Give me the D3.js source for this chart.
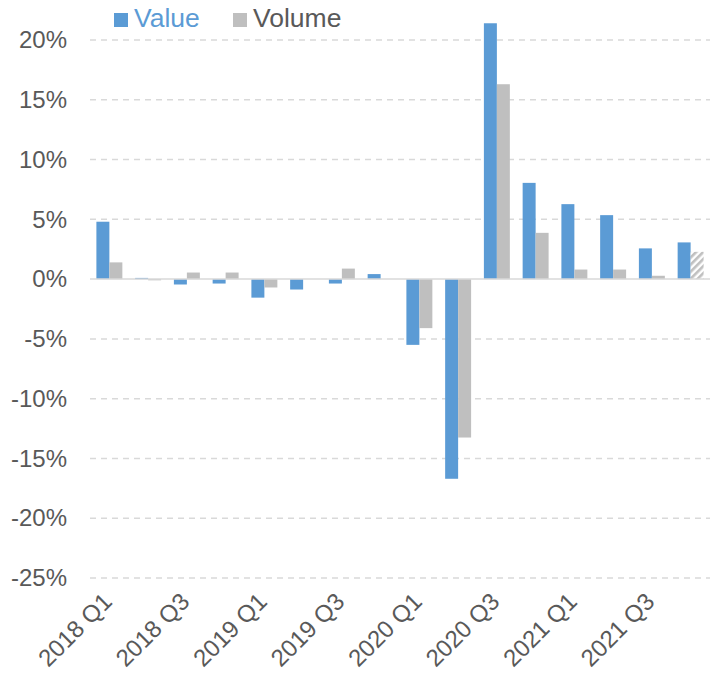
<!DOCTYPE html>
<html><head><meta charset="utf-8">
<script src="https://cdn.jsdelivr.net/npm/d3@7"></script>
<style>body{margin:0;background:#fff}svg{display:block}text{font-family:"Liberation Sans",Arial,sans-serif}</style>
</head><body>
<svg id="c" width="713" height="674"></svg>
<script>
const quarters = ["2018 Q1","2018 Q2","2018 Q3","2018 Q4","2019 Q1","2019 Q2","2019 Q3","2019 Q4","2020 Q1","2020 Q2","2020 Q3","2020 Q4","2021 Q1","2021 Q2","2021 Q3","2021 Q4"];
const valueSeries = [4.8, 0.1, -0.45, -0.37, -1.55, -0.87, -0.37, 0.42, -5.5, -16.7, 21.4, 8.05, 6.27, 5.35, 2.57, 3.07];
const volumeSeries = [1.4, -0.1, 0.55, 0.55, -0.7, 0.0, 0.88, 0.0, -4.1, -13.25, 16.3, 3.87, 0.8, 0.8, 0.28, 2.28];
const estimated = [false,false,false,false,false,false,false,false,false,false,false,false,false,false,false,true];
const yTicks = [-25,-20,-15,-10,-5,0,5,10,15,20];
const xLabels = ["2018 Q1","2018 Q3","2019 Q1","2019 Q3","2020 Q1","2020 Q3","2021 Q1","2021 Q3"];
const seriesNames = ["Value","Volume"];

const svg = d3.select("#c");
const blue = "#5b9bd5", gray = "#bfbfbf";
const y = d3.scaleLinear().domain([-25,20]).range([578,40]);
const x0 = d3.scaleBand().domain(quarters).range([90,710]).paddingInner(0.33).paddingOuter(0.165);
const x1 = d3.scaleBand().domain(seriesNames).range([0,x0.bandwidth()]);

const defs = svg.append("defs");
const pat = defs.append("pattern").attr("id","hatch").attr("patternUnits","userSpaceOnUse")
  .attr("width",5).attr("height",5).attr("patternTransform","rotate(45)");
pat.append("rect").attr("width",5).attr("height",5).attr("fill","#fff");
pat.append("rect").attr("width",2.6).attr("height",5).attr("fill",gray);

// gridlines
svg.append("g").selectAll("line").data(yTicks.filter(d=>d!==0)).join("line")
  .attr("x1",90).attr("x2",710).attr("y1",d=>y(d)).attr("y2",d=>y(d))
  .attr("stroke","#d9d9d9").attr("stroke-width",1.5).attr("stroke-dasharray","6,5");

// y axis labels
const yAxis = d3.axisLeft(y).tickValues(yTicks).tickSize(0).tickPadding(0).tickFormat(d=>d+"%");
const ya = svg.append("g").attr("transform","translate(67,0)").call(yAxis);
ya.select(".domain").remove();
ya.selectAll("text").attr("font-size",24).attr("fill","#595959").attr("font-family","'Liberation Sans',Arial,sans-serif");

// bars
const groups = svg.append("g").selectAll("g").data(quarters).join("g")
  .attr("transform",d=>`translate(${x0(d)},0)`);
groups.append("rect").attr("x",x1("Value")).attr("width",x1.bandwidth())
  .attr("y",(d,i)=>y(Math.max(0,valueSeries[i]))).attr("height",(d,i)=>Math.abs(y(valueSeries[i])-y(0)))
  .attr("fill",blue);
groups.append("rect").attr("x",x1("Volume")).attr("width",x1.bandwidth())
  .attr("y",(d,i)=>y(Math.max(0,volumeSeries[i]))).attr("height",(d,i)=>Math.abs(y(volumeSeries[i])-y(0)))
  .attr("fill",(d,i)=>estimated[i]?"url(#hatch)":gray);

// zero line
svg.append("line").attr("x1",90).attr("x2",710).attr("y1",y(0)).attr("y2",y(0))
  .attr("stroke","#d9d9d9").attr("stroke-width",1.5);

// x labels
svg.append("g").selectAll("text").data(xLabels).join("text")
  .attr("transform",d=>`translate(${x0(d)+x0.bandwidth()/2+4},603) rotate(-45)`)
  .attr("text-anchor","end").attr("font-size",24).attr("fill","#595959").text(d=>d);

// legend
const leg = svg.append("g");
const legItems = [{name:"Value",color:blue,x:114,tc:blue},{name:"Volume",color:gray,x:233,tc:"#595959"}];
leg.selectAll("rect").data(legItems).join("rect").attr("x",d=>d.x).attr("y",13).attr("width",14).attr("height",14).attr("fill",d=>d.color);
leg.selectAll("text").data(legItems).join("text").attr("x",d=>d.x+20).attr("y",27).attr("font-size",26.5)
  .attr("fill",d=>d.tc).text(d=>d.name);
</script>
</body></html>
